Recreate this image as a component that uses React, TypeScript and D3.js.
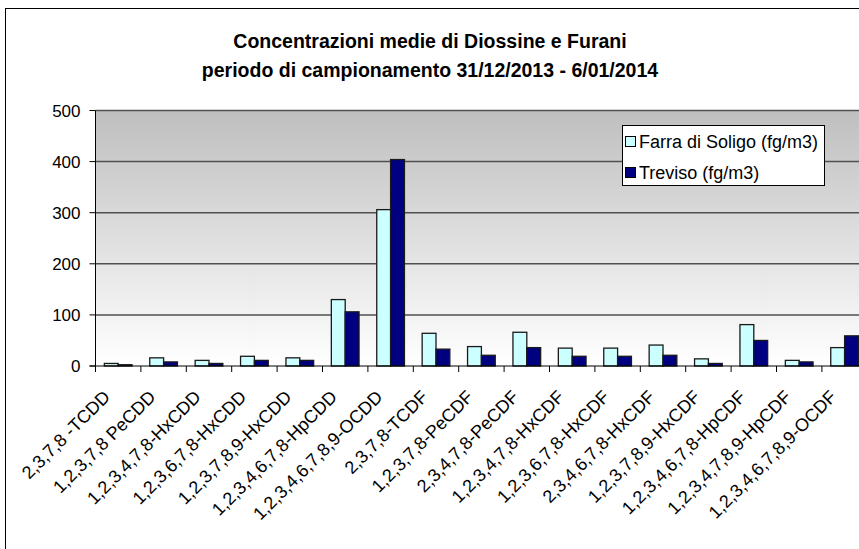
import React from "react";
import * as d3 from "d3";

const categories = [
  "2,3,7,8 -TCDD",
  "1,2,3,7,8 PeCDD",
  "1,2,3,4,7,8-HxCDD",
  "1,2,3,6,7,8-HxCDD",
  "1,2,3,7,8,9-HxCDD",
  "1,2,3,4,6,7,8-HpCDD",
  "1,2,3,4,6,7,8,9-OCDD",
  "2,3,7,8-TCDF",
  "1,2,3,7,8-PeCDF",
  "2,3,4,7,8-PeCDF",
  "1,2,3,4,7,8-HxCDF",
  "1,2,3,6,7,8-HxCDF",
  "2,3,4,6,7,8-HxCDF",
  "1,2,3,7,8,9-HxCDF",
  "1,2,3,4,6,7,8-HpCDF",
  "1,2,3,4,7,8,9-HpCDF",
  "1,2,3,4,6,7,8,9-OCDF",
];

const farra = [5, 16, 11, 19, 16, 130, 306, 64, 38, 66, 35, 35, 41, 14, 81, 11, 36];
const treviso = [2.5, 8, 5, 11, 11, 106, 404, 33, 21, 36, 19, 19, 21, 5, 50, 8, 59];

const yTicks = [0, 100, 200, 300, 400, 500];
const seriesNames = ["Farra di Soligo (fg/m3)", "Treviso (fg/m3)"];
const seriesColors = ["#ccffff", "#000080"];
const titleLines = [
  "Concentrazioni medie di Diossine e Furani",
  "periodo di campionamento 31/12/2013 - 6/01/2014",
];

const W = 859;
const H = 549;
const plotLeft = 95.5;
const plotTop = 110.5;
const plotBottom = 366;
const bandW = 45.4;
const FONT = "'Liberation Sans', Arial, sans-serif";

export default function App() {
  const x = d3
    .scaleBand<string>()
    .domain(categories)
    .range([plotLeft, plotLeft + bandW * categories.length])
    .padding(0);
  const y = d3.scaleLinear().domain([0, 500]).range([plotBottom, plotTop]);
  const plotRight = plotLeft + bandW * categories.length;
  const bw = x.bandwidth() * 0.305;
  const series = [farra, treviso];

  return (
    <svg
      width={W}
      height={H}
      style={{ position: "absolute", left: 0, top: 0 }}
      fontFamily={FONT}
    >
      <defs>
        <linearGradient id="bg" x1="0" y1="0" x2="0" y2="1">
          <stop offset="0" stopColor="#bfbfbf" />
          <stop offset="1" stopColor="#ffffff" />
        </linearGradient>
      </defs>
      <rect x={0} y={0} width={W} height={H} fill="#ffffff" />
      {/* chart frame */}
      <rect x={5.5} y={8.5} width={W + 20} height={H + 20} fill="none" stroke="#000" strokeWidth={1} />

      {/* title */}
      {titleLines.map((t, i) => (
        <text
          key={i}
          x={430}
          y={48 + i * 29}
          textAnchor="middle"
          fontSize={19.5}
          fontWeight="bold"
          fill="#000"
        >
          {t}
        </text>
      ))}

      {/* plot background */}
      <rect
        x={plotLeft}
        y={plotTop}
        width={plotRight - plotLeft}
        height={plotBottom - plotTop}
        fill="url(#bg)"
      />

      {/* gridlines */}
      {yTicks
        .filter((v) => v > 0)
        .map((v) => (
          <line
            key={v}
            x1={plotLeft}
            x2={plotRight}
            y1={y(v)}
            y2={y(v)}
            stroke="#505050"
            strokeWidth={1.5}
          />
        ))}

      {/* bars */}
      {series.map((vals, si) =>
        vals.map((v, i) => {
          const cx = x(categories[i])! + x.bandwidth() / 2;
          const bx = si === 0 ? cx - bw : cx;
          return (
            <rect
              key={si + "-" + i}
              x={bx}
              y={y(v)}
              width={bw}
              height={y(0) - y(v)}
              fill={seriesColors[si]}
              stroke="#1a1a1a"
              strokeWidth={1.3}
            />
          );
        })
      )}

      {/* axes */}
      <line x1={plotLeft} x2={plotLeft} y1={plotTop} y2={plotBottom} stroke="#000" strokeWidth={1} />
      <line x1={plotLeft - 6} x2={plotRight} y1={plotBottom} y2={plotBottom} stroke="#000" strokeWidth={1} />
      {yTicks.map((v) => (
        <g key={v}>
          <line x1={plotLeft - 6} x2={plotLeft} y1={y(v)} y2={y(v)} stroke="#000" />
          <text
            x={plotLeft - 15}
            y={y(v)}
            dy="0.36em"
            textAnchor="end"
            fontSize={17}
            fill="#000"
          >
            {v}
          </text>
        </g>
      ))}
      {categories.map((c, i) => (
        <line
          key={"t" + i}
          x1={x(c)!}
          x2={x(c)!}
          y1={plotBottom}
          y2={plotBottom + 6}
          stroke="#000"
        />
      ))}
      {categories.map((c, i) => {
        const cx = x(c)! + x.bandwidth() / 2;
        return (
          <text
            key={"l" + i}
            transform={`translate(${cx - 7},${plotBottom + 32}) rotate(-45)`}
            textAnchor="end"
            fontSize={18}
            fill="#000"
          >
            {c}
          </text>
        );
      })}

      {/* legend */}
      <rect x={622.5} y={125.5} width={202} height={60} fill="#fff" stroke="#000" strokeWidth={1} />
      {seriesNames.map((n, i) => (
        <g key={n}>
          <rect
            x={625.5}
            y={136.5 + i * 31}
            width={10}
            height={10}
            fill={seriesColors[i]}
            stroke="#000"
            strokeWidth={1}
          />
          <text x={639} y={141.5 + i * 31} dy="0.36em" fontSize={18} fill="#000">
            {n}
          </text>
        </g>
      ))}
    </svg>
  );
}
